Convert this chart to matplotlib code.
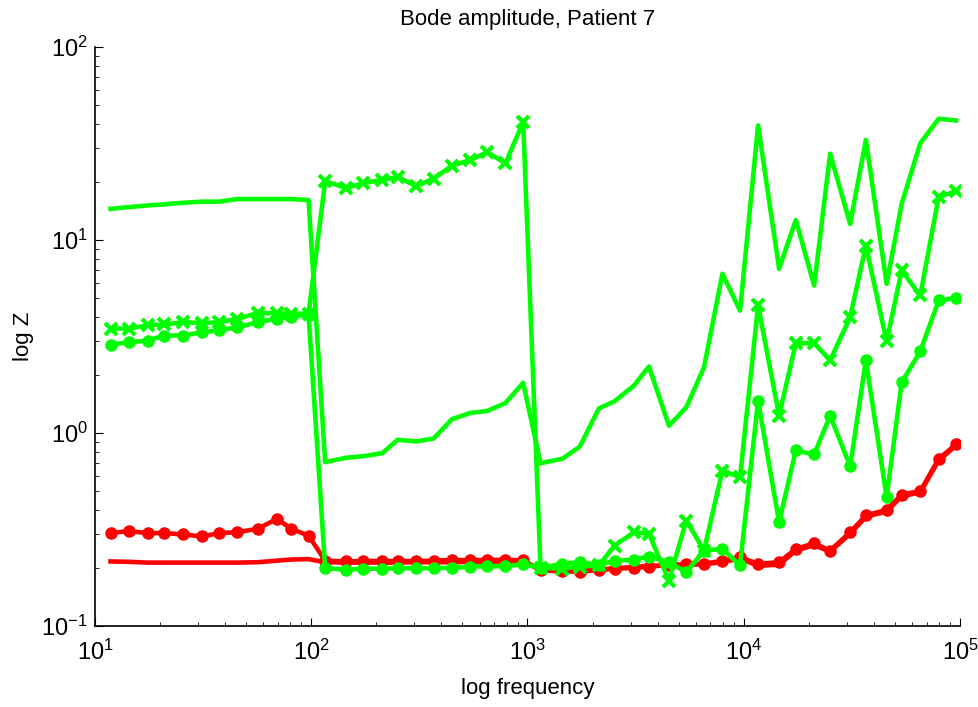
import numpy as np
import matplotlib
matplotlib.use("Agg")
import matplotlib.pyplot as plt
from matplotlib.ticker import LogLocator, NullFormatter

plt.rcParams["font.family"] = ["Liberation Sans", "DejaVu Sans"]
plt.rcParams["mathtext.fontset"] = "custom"
plt.rcParams["mathtext.rm"] = "Liberation Sans"
plt.rcParams["mathtext.it"] = "Liberation Sans"
plt.rcParams["axes.unicode_minus"] = False

GREEN = "#00FF00"
RED = "#FF0000"

# frequencies (Hz)
freq = [11.8, 14.3, 17.5, 20.9, 25.6, 31.4, 37.5, 45.6, 56.7, 69.4, 80.8, 97.2,
        116, 145, 174, 213, 251, 306, 368, 448, 545, 651, 791, 955,
        1149, 1448, 1747, 2138, 2528, 3105, 3645, 4510, 5428, 6550, 7967, 9614,
        11650, 14570, 17410, 21160, 25090, 31050, 36710, 45780, 53740, 65500, 79670, 95830]

green_solid = [14.5, 14.8, 15.1, 15.3, 15.6, 15.8, 15.8, 16.3, 16.3, 16.3, 16.3, 16.1,
               0.706, 0.744, 0.758, 0.786, 0.922, 0.904, 0.936, 1.18, 1.27, 1.30, 1.43, 1.82,
               0.697, 0.735, 0.851, 1.34, 1.46, 1.76, 2.21, 1.09, 1.36, 2.19, 6.68, 4.31,
               39.2, 7.09, 12.7, 5.81, 28.0, 12.1, 33.0, 5.93, 15.4, 31.7, 42.5, 41.6]

green_cross = [3.47, 3.47, 3.61, 3.65, 3.75, 3.71, 3.75, 3.91, 4.18, 4.18, 4.15, 4.15,
               20.2, 18.6, 19.7, 20.5, 21.2, 19.0, 20.8, 24.3, 26.0, 28.5, 25.0, 40.8,
               0.200, 0.198, 0.203, 0.206, 0.261, 0.306, 0.300, 0.172, 0.352, 0.246, 0.639, 0.59,
               4.58, 1.23, 2.92, 2.92, 2.38, 3.98, 9.36, 2.98, 6.95, 5.16, 16.7, 17.9]

green_dot = [2.87, 2.95, 3.01, 3.20, 3.20, 3.33, 3.40, 3.53, 3.75, 3.91, 4.01, 4.11,
             0.199, 0.196, 0.198, 0.198, 0.199, 0.199, 0.199, 0.200, 0.203, 0.204, 0.204, 0.209,
             0.200, 0.210, 0.214, 0.208, 0.217, 0.221, 0.229, 0.214, 0.190, 0.246, 0.251, 0.206,
             1.47, 0.345, 0.812, 0.774, 1.23, 0.671, 2.38, 0.465, 1.83, 2.65, 4.86, 5.0]

red_dot = [0.303, 0.310, 0.303, 0.303, 0.298, 0.291, 0.303, 0.306, 0.319, 0.359, 0.319, 0.294,
           0.218, 0.216, 0.217, 0.217, 0.217, 0.217, 0.218, 0.220, 0.219, 0.220, 0.220, 0.219,
           0.194, 0.192, 0.191, 0.195, 0.198, 0.200, 0.203, 0.207, 0.209, 0.210, 0.218, 0.227,
           0.210, 0.214, 0.251, 0.268, 0.246, 0.306, 0.374, 0.400, 0.480, 0.500, 0.735, 0.872]

red_solid = [0.216, 0.215, 0.213, 0.213, 0.213, 0.213, 0.213, 0.213, 0.214, 0.218, 0.221, 0.222,
             0.214, 0.213, 0.213, 0.213, 0.213, 0.214, 0.214, 0.214, 0.215, 0.215, 0.216, 0.215,
             0.196, 0.194, 0.193, 0.196, 0.199, 0.202, 0.205, 0.206, 0.208, 0.209, 0.214, 0.224,
             0.205, 0.208, 0.246, 0.262, 0.243, 0.300, 0.368, 0.392, 0.470, 0.492, 0.720, 0.860]

fig = plt.figure(figsize=(9.79, 7.07), dpi=100, facecolor="white")
ax = fig.add_axes([0.097, 0.1146, 0.8836, 0.8189])

ax.plot(freq, red_solid, color=RED, lw=3.3)
ax.plot(freq, red_dot, color=RED, lw=3.3, marker="o", ms=8)
ax.plot(freq, green_solid, color=GREEN, lw=3.3)
ax.plot(freq, green_cross, color=GREEN, lw=3.3, marker="x", ms=8, mew=3)
ax.plot(freq, green_dot, color=GREEN, lw=3.3, marker="o", ms=8)

ax.set_xscale("log")
ax.set_yscale("log")
ax.set_xlim(10, 1e5)
ax.set_ylim(0.1, 100)
ax.spines[["top", "right"]].set_visible(False)
ax.spines[["left", "bottom"]].set_linewidth(1.2)
ax.xaxis.set_minor_locator(LogLocator(base=10, subs=np.arange(2, 10)))
ax.yaxis.set_minor_locator(LogLocator(base=10, subs=np.arange(2, 10)))
ax.xaxis.set_minor_formatter(NullFormatter())
ax.yaxis.set_minor_formatter(NullFormatter())
ax.tick_params(which="both", direction="in", colors="black")
ax.tick_params(which="major", length=6, labelsize=17)
ax.tick_params(axis="x", which="major", pad=10)
ax.tick_params(axis="y", which="major", pad=5)
ax.tick_params(which="minor", length=3)

ax.set_title("Bode amplitude, Patient 7", fontsize=16, pad=16)
ax.set_xlabel("log frequency", fontsize=16)
ax.set_ylabel("log Z", fontsize=16)
ax.xaxis.set_label_coords(0.5, -0.09)
ax.yaxis.set_label_coords(-0.07, 0.5)

fig.savefig("out.png", dpi=100, facecolor="white")
